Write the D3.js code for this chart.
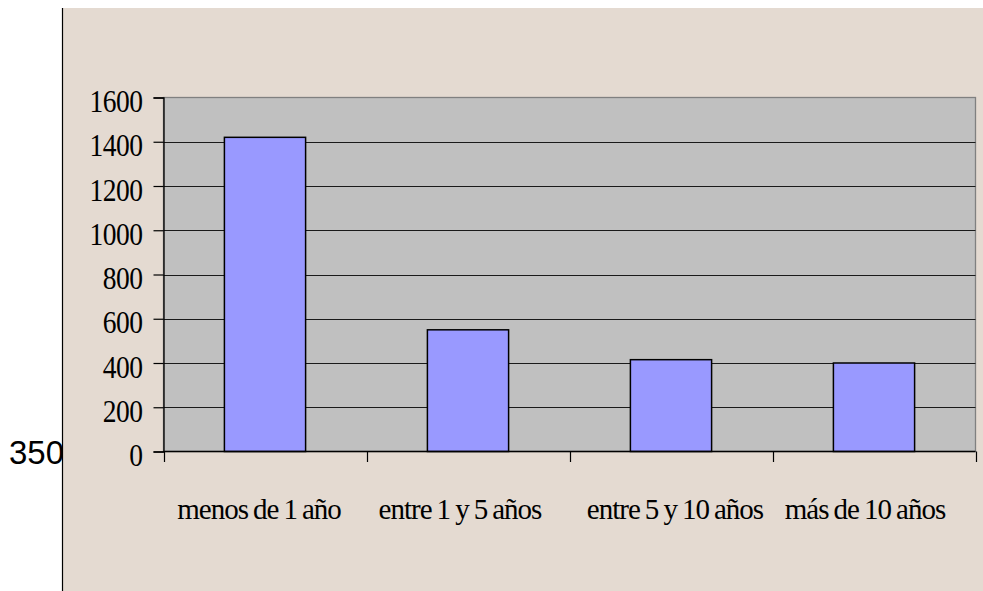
<!DOCTYPE html>
<html>
<head>
<meta charset="utf-8">
<script src="https://cdn.jsdelivr.net/npm/d3@7"></script>
<style>
  html, body { margin: 0; padding: 0; background: #ffffff; }
  svg { display: block; }
</style>
</head>
<body>
<script>
// Antigüedad: número de casos por tramo
const categories = ["menos de 1 año", "entre 1 y 5 años", "entre 5 y 10 años", "más de 10 años"];
const values = [1420, 550, 415, 400];
const yTicks = [0, 200, 400, 600, 800, 1000, 1200, 1400, 1600];
const sideLabel = "350";

const W = 983, H = 591;
const plot = { left: 163.5, right: 975.5, top: 97.5, bottom: 451.5 };

const svg = d3.select("body").append("svg")
  .attr("width", W).attr("height", H);

// stray label on the white margin (partly hidden by the panel)
svg.append("text")
  .attr("x", 9).attr("y", 464)
  .attr("font-family", "Liberation Sans, Arial, sans-serif")
  .attr("font-size", 33)
  .attr("fill", "#000")
  .text(sideLabel);

// panel background
svg.append("rect")
  .attr("x", 63).attr("y", 8).attr("width", W - 63).attr("height", H - 8)
  .attr("fill", "#e4dad1");
svg.append("line")
  .attr("x1", 62.5).attr("x2", 62.5).attr("y1", 8).attr("y2", H)
  .attr("stroke", "#000").attr("stroke-width", 1.2);

const x = d3.scaleBand()
  .domain(categories)
  .range([plot.left, plot.right])
  .paddingInner(0.6)
  .paddingOuter(0.3);

const y = d3.scaleLinear()
  .domain([0, 1600])
  .range([plot.bottom, plot.top]);

// plot area
svg.append("rect")
  .attr("x", plot.left).attr("y", plot.top)
  .attr("width", plot.right - plot.left).attr("height", plot.bottom - plot.top)
  .attr("fill", "#c0c0c0")
  .attr("stroke", "#808080").attr("stroke-width", 1.3);

// horizontal gridlines
svg.append("g").selectAll("line")
  .data(yTicks.filter(d => d > 0 && d < 1600))
  .join("line")
  .attr("x1", plot.left).attr("x2", plot.right)
  .attr("y1", d => Math.round(y(d)) + 0.5).attr("y2", d => Math.round(y(d)) + 0.5)
  .attr("stroke", "#1a1a1a").attr("stroke-width", 1);

// bars
svg.append("g").selectAll("rect")
  .data(values)
  .join("rect")
  .attr("x", (d, i) => x(categories[i]))
  .attr("y", d => y(d))
  .attr("width", x.bandwidth())
  .attr("height", d => y(0) - y(d))
  .attr("fill", "#9999ff")
  .attr("stroke", "#000").attr("stroke-width", 1.5);

// y axis
const yAxis = svg.append("g")
  .attr("transform", `translate(${plot.left},0)`)
  .call(d3.axisLeft(y).tickValues(yTicks).tickSize(10).tickPadding(0).tickFormat(d3.format("d")));
yAxis.select(".domain").attr("stroke", "#000").attr("stroke-width", 1.3);
yAxis.selectAll(".tick line").attr("stroke", "#000").attr("stroke-width", 1.2);
yAxis.selectAll(".tick text")
  .attr("x", null).attr("dy", null)
  .attr("font-family", "Liberation Serif, Times New Roman, serif")
  .attr("font-size", 32)
  .attr("fill", "#000")
  .attr("text-anchor", "end")
  .attr("letter-spacing", -0.6)
  .attr("transform", "translate(-21,14) scale(0.86,1)");

// x axis
const xPos = d3.scaleLinear().domain([0, categories.length]).range([plot.left, plot.right]);
const xAxis = svg.append("g")
  .attr("transform", `translate(0,${plot.bottom})`);
xAxis.append("line")
  .attr("x1", plot.left).attr("x2", plot.right)
  .attr("stroke", "#000").attr("stroke-width", 1.3);
xAxis.selectAll("line.tk")
  .data(d3.range(categories.length + 1))
  .join("line").attr("class", "tk")
  .attr("x1", d => Math.round(xPos(d)) + 0.5).attr("x2", d => Math.round(xPos(d)) + 0.5)
  .attr("y1", 0).attr("y2", 10.5)
  .attr("stroke", "#000").attr("stroke-width", 1.2);

const labelOffsets = [-6, -8, 4, -9];
xAxis.selectAll("text")
  .data(categories)
  .join("text")
  .attr("font-family", "Liberation Serif, Times New Roman, serif")
  .attr("font-size", 29)
  .attr("fill", "#000")
  .attr("text-anchor", "middle")
  .attr("letter-spacing", -1)
  .attr("word-spacing", -1.2)
  .attr("transform", (d, i) => `translate(${x(d) + x.bandwidth() / 2 + labelOffsets[i]},67)`)
  .text(d => d);
</script>
</body>
</html>
